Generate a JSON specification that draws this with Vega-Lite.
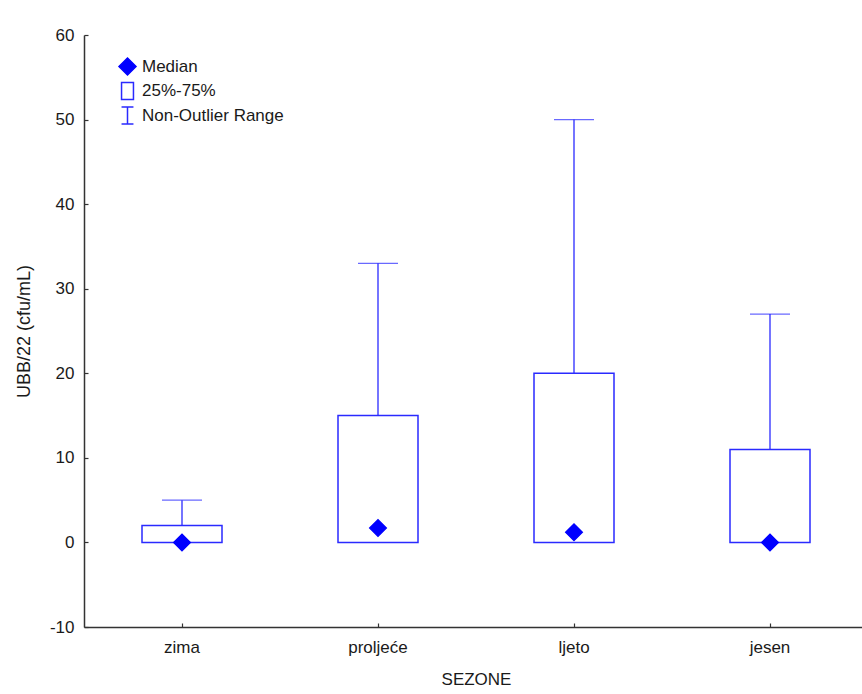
{
  "$schema": "https://vega.github.io/schema/vega-lite/v6.json",
  "autosize": "none",
  "width": 784,
  "height": 592,
  "padding": {"left": 84, "top": 35, "right": 0, "bottom": 67},
  "background": "white",
  "config": {
    "view": {"stroke": null},
    "font": "Liberation Sans",
    "axis": {
      "labelFont": "Liberation Sans",
      "titleFont": "Liberation Sans",
      "labelFontSize": 17,
      "titleFontSize": 17,
      "titleFontWeight": "normal",
      "labelColor": "#1a1a1a",
      "titleColor": "#1a1a1a",
      "domainColor": "#333333",
      "domainWidth": 1.5,
      "tickColor": "#333333",
      "tickWidth": 1.2,
      "grid": false
    },
    "legend": {
      "labelFont": "Liberation Sans",
      "labelFontSize": 17,
      "labelColor": "#1a1a1a",
      "title": null,
      "orient": "none",
      "legendX": 34,
      "legendY": 22,
      "symbolSize": 290,
      "rowPadding": -0.5,
      "labelOffset": 5
    }
  },
  "data": {
    "values": [
      {"season": "zima", "lower": 0, "q1": 0, "median": 0, "q3": 2, "upper": 5},
      {"season": "proljeće", "lower": 0, "q1": 0, "median": 1.7, "q3": 15, "upper": 33},
      {"season": "ljeto", "lower": 0, "q1": 0, "median": 1.2, "q3": 20, "upper": 50},
      {"season": "jesen", "lower": 0, "q1": 0, "median": 0, "q3": 11, "upper": 27}
    ]
  },
  "encoding": {
    "x": {
      "field": "season",
      "type": "nominal",
      "sort": ["zima", "proljeće", "ljeto", "jesen"],
      "scale": {"paddingInner": 0, "paddingOuter": 0},
      "axis": {"title": "SEZONE", "labelAngle": 0, "tickSize": -4, "labelPadding": 16, "titlePadding": 16}
    }
  },
  "layer": [
    {
      "mark": {"type": "rule", "color": "#2a2aff", "strokeWidth": 1.3},
      "encoding": {
        "y": {
          "field": "q3",
          "type": "quantitative",
          "scale": {"domain": [-10, 60], "nice": false, "zero": false},
          "axis": {"title": "UBB/22 (cfu/mL)", "titleFontSize": 18, "values": [-10, 0, 10, 20, 30, 40, 50, 60], "labelExpr": "replace(datum.label, '\u2212', '-')", "tickSize": -4, "labelPadding": 14, "titlePadding": 16}
        },
        "y2": {"field": "upper"}
      }
    },
    {
      "mark": {"type": "tick", "color": "#2a2aff", "size": 40, "thickness": 1.3},
      "encoding": {"y": {"field": "upper", "type": "quantitative"}}
    },
    {
      "mark": {"type": "bar", "fill": "white", "stroke": "#2a2aff", "strokeWidth": 1.5, "width": 80},
      "encoding": {
        "y": {"field": "q1", "type": "quantitative"},
        "y2": {"field": "q3"}
      }
    },
    {
      "mark": {"type": "point", "filled": false, "size": 280, "strokeWidth": 1.3, "opacity": 1},
      "encoding": {
        "y": {"field": "median", "type": "quantitative"},
        "shape": {
          "datum": "Median",
          "type": "nominal",
          "scale": {
            "domain": ["Median", "25%-75%", "Non-Outlier Range"],
            "range": ["diamond", "M-0.7,-1V1H0.7V-1Z", "M-0.7,-1H0.7M0,-1V1M-0.7,1H0.7"]
          }
        },
        "fill": {
          "datum": "Median",
          "type": "nominal",
          "scale": {
            "domain": ["Median", "25%-75%", "Non-Outlier Range"],
            "range": ["#0000ff", "transparent", "transparent"]
          }
        },
        "stroke": {
          "datum": "Median",
          "type": "nominal",
          "scale": {
            "domain": ["Median", "25%-75%", "Non-Outlier Range"],
            "range": ["#0000ff", "#2a2aff", "#2a2aff"]
          }
        }
      }
    }
  ]
}
